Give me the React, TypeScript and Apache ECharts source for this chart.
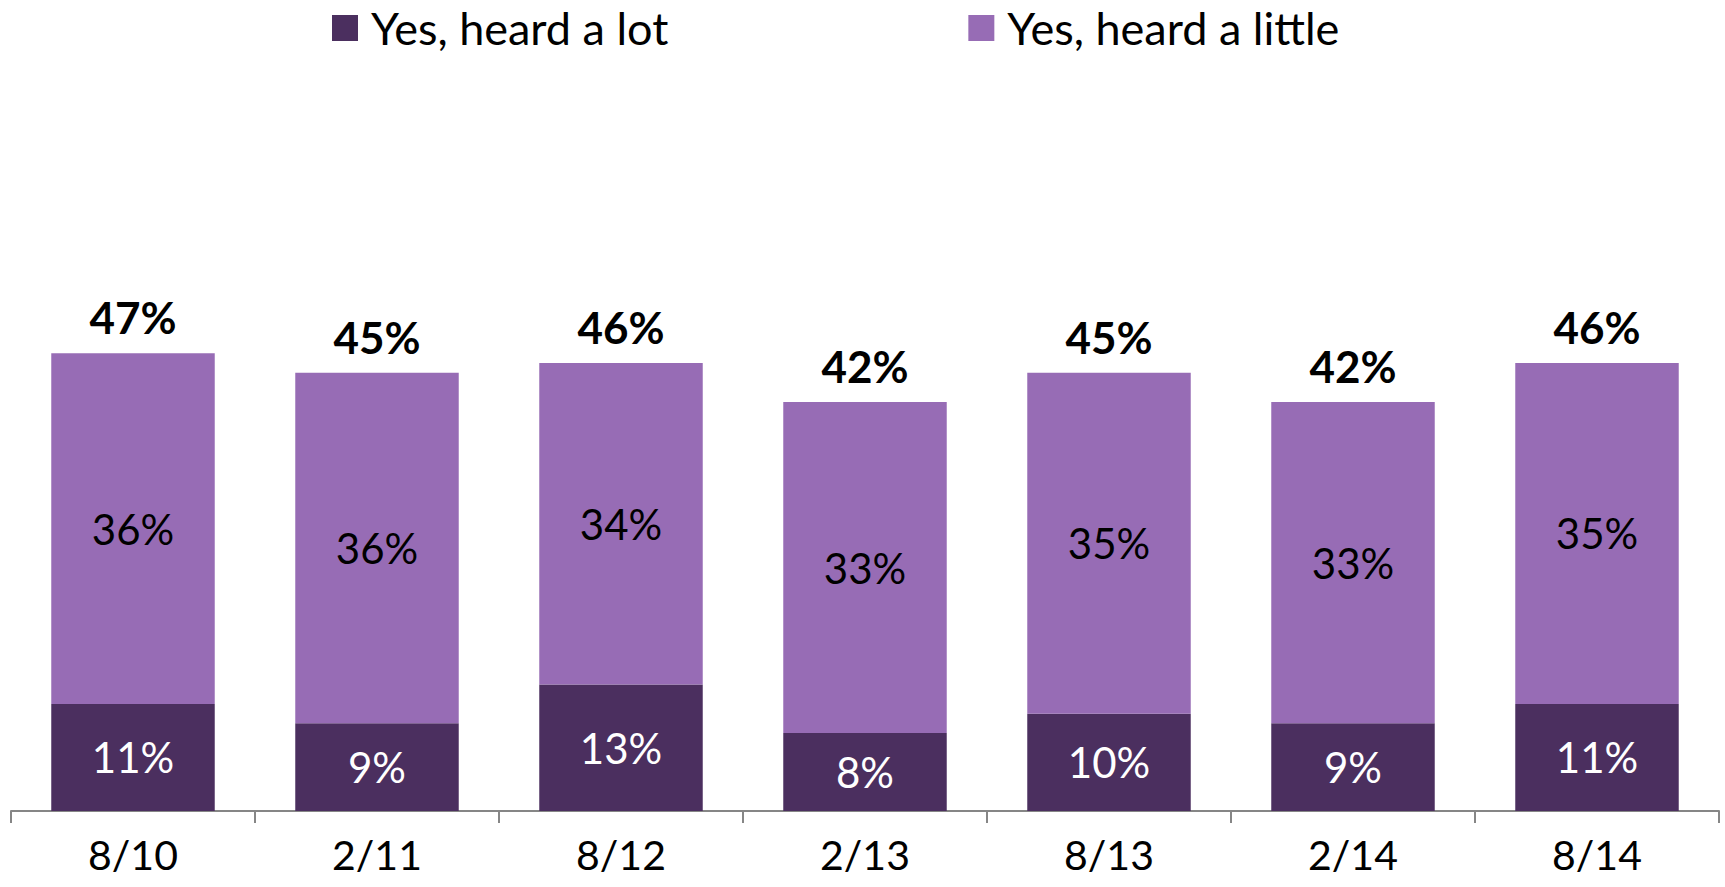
import React, { useEffect, useRef } from "react";
import * as echarts from "echarts";

const categories = ["8/10", "2/11", "8/12", "2/13", "8/13", "2/14", "8/14"];
const heardALot = [11, 9, 13, 8, 10, 9, 11];
const heardALittleLabels = [36, 36, 34, 33, 35, 33, 35];
const totals = [47, 45, 46, 42, 45, 42, 46];
const seriesNames = ["Yes, heard a lot", "Yes, heard a little"];

const FONT = "Lato, 'Noto Sans', sans-serif";

export default function App() {
  const ref = useRef<HTMLDivElement>(null);
  useEffect(() => {
    document.body.style.margin = "0";
    if (!ref.current) return;
    const chart = echarts.init(ref.current, null, { renderer: "svg" });
    const lightValues = totals.map((t, i) => t - heardALot[i]);
    chart.setOption({
      animation: false,
      textStyle: { fontFamily: FONT },
      legend: {
        left: 327,
        top: 5,
        padding: [0, 5, 0, 5],
        itemWidth: 26,
        itemHeight: 26,
        itemGap: 300,
        icon: "rect",
        textStyle: { fontSize: 45, lineHeight: 46, color: "#000", fontFamily: FONT, padding: [0, 0, 0, 8] },
        data: seriesNames,
      },
      grid: { left: 11, right: 6, top: 32, bottom: 76 },
      xAxis: {
        type: "category",
        data: categories,
        axisLine: { lineStyle: { color: "#868686", width: 2 } },
        axisTick: { show: true, length: 12, lineStyle: { color: "#868686", width: 2 } },
        axisLabel: { fontSize: 41, color: "#000", margin: 23, fontFamily: FONT },
      },
      yAxis: { type: "value", min: 0, max: 80, show: false, splitLine: { show: false } },
      series: [
        {
          name: seriesNames[0],
          type: "bar",
          stack: "s",
          barWidth: "67%",
          data: heardALot,
          itemStyle: { color: "#4B2F5F" },
          label: {
            show: true,
            position: "inside",
            color: "#fff",
            fontSize: 42,
            fontFamily: FONT,
            formatter: (p: any) => heardALot[p.dataIndex] + "%",
          },
        },
        {
          name: seriesNames[1],
          type: "bar",
          stack: "s",
          barWidth: "67%",
          data: lightValues,
          itemStyle: { color: "#976CB5" },
          label: {
            show: true,
            position: "inside",
            color: "#000",
            fontSize: 42,
            fontFamily: FONT,
            formatter: (p: any) => heardALittleLabels[p.dataIndex] + "%",
          },
        },
        {
          name: "total",
          type: "bar",
          stack: "s",
          barWidth: "67%",
          data: totals.map(() => 0),
          itemStyle: { color: "transparent" },
          label: {
            show: true,
            position: "top",
            distance: 14,
            color: "#000",
            fontSize: 44,
            fontWeight: "bold",
            fontFamily: FONT,
            formatter: (p: any) => totals[p.dataIndex] + "%",
          },
        },
      ],
    });
    return () => chart.dispose();
  }, []);
  return <div ref={ref} style={{ width: 1725, height: 887 }} />;
}
